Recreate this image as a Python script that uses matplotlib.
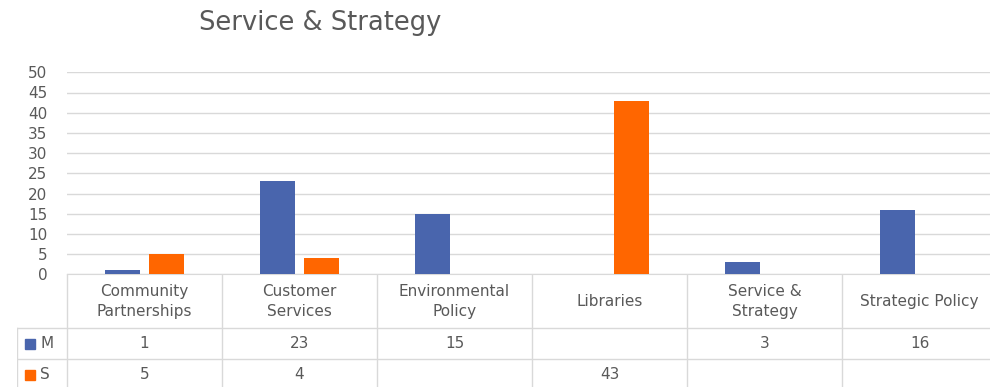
import numpy as np
import matplotlib
matplotlib.use('Agg')
import matplotlib.pyplot as plt

# ========================
# Data
# ========================
categories = ["Community\nPartnerships", "Customer\nServices", "Environmental\nPolicy",
              "Libraries", "Service &\nStrategy", "Strategic Policy"]
series_names = ["M", "S"]
m_values = [1, 23, 15, None, 3, 16]
s_values = [5, 4, None, 43, None, None]
y_ticks = list(range(0, 55, 5))

# ========================
# Style
# ========================
BLUE = '#4965ad'
ORANGE = '#ff6600'
TEXT = '#595959'
GRID = '#d9d9d9'
FS = 11
plt.rcParams['font.family'] = ['DejaVu Sans']

W, H = 990, 387


def px_rect(x0, y0, x1, y1):
    """Axes rectangle from pixel edges (origin top-left)."""
    return [x0 / W, 1 - y1 / H, (x1 - x0) / W, (y1 - y0) / H]


fig = plt.figure(figsize=(W / 100, H / 100), dpi=100)
fig.text(320 / W, 1 - 23 / H, "Service & Strategy", ha='center', va='center',
         fontsize=18.5, color=TEXT)

# ========================
# Bars
# ========================
ax = fig.add_axes(px_rect(67, 72.3, 997, 274.3))
x = np.arange(len(categories))
bar_w = 0.226
offset = 0.145
m_arr = np.array([np.nan if v is None else v for v in m_values], dtype=float)
s_arr = np.array([np.nan if v is None else v for v in s_values], dtype=float)
ax.bar(x - offset, np.nan_to_num(m_arr), width=bar_w, color=BLUE, zorder=3)
ax.bar(x + offset, np.nan_to_num(s_arr), width=bar_w, color=ORANGE, zorder=3)

ax.set_xlim(-0.5, len(categories) - 0.5)
ax.set_ylim(0, 50)
ax.set_yticks(y_ticks)
ax.set_yticklabels([str(t) for t in y_ticks])
ax.set_xticks([])
ax.tick_params(axis='y', length=0, pad=14, labelsize=FS, labelcolor=TEXT)
ax.grid(axis='y', color=GRID, linewidth=1, zorder=0)
for side in ['top', 'right', 'left']:
    ax.spines[side].set_visible(False)
ax.spines['bottom'].set_color(GRID)
ax.patch.set_alpha(0)

# ========================
# Data table under the axis
# ========================
legend_w = 50 / 155  # legend column width in category units
x_left = -0.5 - legend_w
x_right = len(categories) - 0.5
rows = [0, 54, 85, 116]  # row edges in pixels below the axis line

ax_t = fig.add_axes(px_rect(17, 274.3, 997, 390.3))
ax_t.set_xlim(x_left, x_right)
ax_t.set_ylim(rows[-1], 0)
ax_t.axis('off')

line_kw = dict(color=GRID, linewidth=1)
for b in np.arange(-0.5, len(categories)):
    ax_t.plot([b, b], [rows[0], rows[-1]], **line_kw)
ax_t.plot([x_left, x_left], [rows[1], rows[-1]], **line_kw)
for r in rows[1:3]:
    ax_t.plot([x_left, x_right], [r, r], **line_kw)

for i, label in enumerate(categories):
    ax_t.text(i, (rows[0] + rows[1]) / 2, label, ha='center', va='center',
              fontsize=FS, color=TEXT, linespacing=1.45)

for k, (name, vals, color) in enumerate(zip(series_names, [m_values, s_values], [BLUE, ORANGE])):
    yc = (rows[k + 1] + rows[k + 2]) / 2
    ax_t.plot([x_left + 13 / 155], [yc], marker='s', markersize=6.5, color=color, linestyle='none')
    ax_t.text(x_left + 23 / 155, yc, name, ha='left', va='center', fontsize=FS, color=TEXT)
    for i, v in enumerate(vals):
        if v is not None:
            ax_t.text(i, yc, str(v), ha='center', va='center', fontsize=FS, color=TEXT)

fig.savefig('out.png', dpi=100)
